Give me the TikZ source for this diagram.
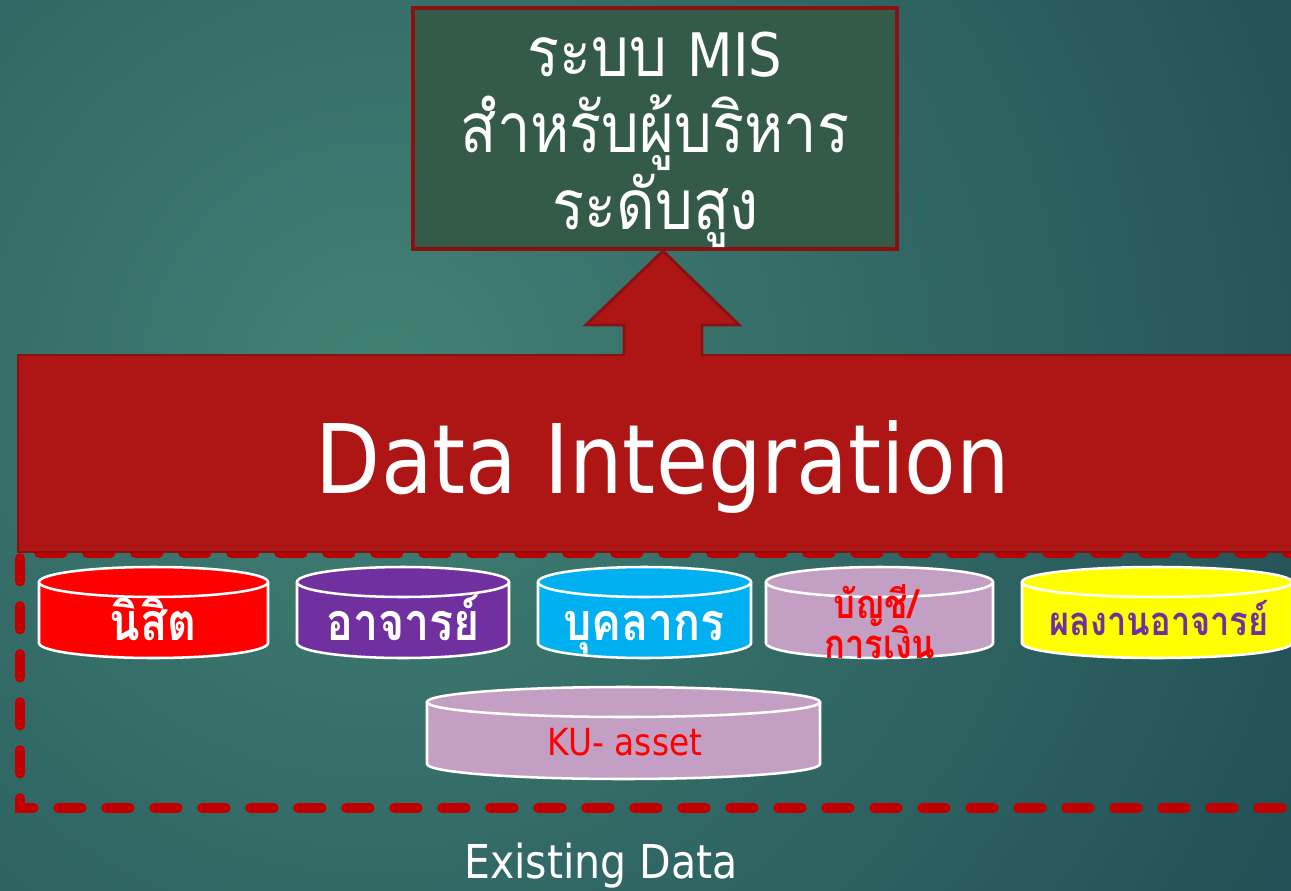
\documentclass[tikz,border=0pt]{standalone}
\usepackage{fontspec}
\newfontfamily\thai[Script=Thai,FakeStretch=0.86]{Loma}
\newfontfamily\dvc[FakeStretch=0.88]{DejaVu Sans}
\definecolor{bgin}{HTML}{428174}
\definecolor{bgout}{HTML}{1E4A52}
\definecolor{boxgreen}{HTML}{345A48}
\definecolor{darkred}{HTML}{8A1111}
\definecolor{bandred}{HTML}{AE1616}
\definecolor{dashred}{HTML}{C00000}
\definecolor{cred}{HTML}{FF0000}
\definecolor{cpurple}{HTML}{7030A0}
\definecolor{cblue}{HTML}{00B0F0}
\definecolor{clilac}{HTML}{C49FC4}
\definecolor{cyellow}{HTML}{FFFF00}
\tikzset{
  dashline/.style={draw=dashred, line width=8pt, line cap=round, dash pattern=on 17pt off 19pt},
  cylline/.style={draw=white, line width=1.9pt},
  bandstyle/.style={fill=bandred, draw=darkred, line width=2.2pt},
  topbox/.style={fill=boxgreen, draw=darkred, line width=2.4pt},
  toptext/.style={anchor=base, text=white, font=\thai\fontsize{52}{60}\selectfont, inner sep=0pt},
  dbtext/.style={anchor=base, text=white, font=\thai\bfseries\fontsize{39}{44}\selectfont, inner sep=0pt},
  dbsmall/.style={anchor=base, font=\thai\bfseries\fontsize{30}{34}\selectfont, inner sep=0pt},
  lattext/.style={anchor=base, text=white, inner sep=0pt}
}
\newcommand{\dbcyl}[5]{%
  \pgfmathsetmacro\cyX{(#1+#2)/2}%
  \pgfmathsetmacro\cyR{(#2-#1)/2}%
  \pgfmathsetmacro\cyA{#3+15}%
  \pgfmathsetmacro\cyB{#4-15}%
  \fill[#5] (#1,\cyA) -- (#1,\cyB) arc[start angle=180, end angle=0, x radius=\cyR, y radius=15] -- (#2,\cyA) -- cycle;
  \draw[cylline] (#1,\cyA) -- (#1,\cyB) arc[start angle=180, end angle=0, x radius=\cyR, y radius=15] -- (#2,\cyA);
  \filldraw[cylline, fill=#5] (\cyX,\cyA) ellipse[x radius=\cyR, y radius=15];
}
\begin{document}
\begin{tikzpicture}[x=0.75pt,y=-0.75pt]
\useasboundingbox (0,0) rectangle (1291,891);
\begin{scope}
  \clip (0,0) rectangle (1291,891);
  \fill[bgout] (0,0) rectangle (1291,891);
  \shade[inner color=bgin, outer color=bgout] (380,380) circle[radius=1150];
\end{scope}
% dashed frame (Existing Data)
\draw[dashline] (39.5,553) -- (1320,553);
\draw[dashline] (20,558.5) -- (20,808) -- (1320,808);
% Data Integration band
\filldraw[bandstyle] (18,355) rectangle (1320,552);
\node[lattext, font=\dvc\fontsize{72}{86}\selectfont] (di) at (663,493) {Data Integration};
% up arrow
\filldraw[bandstyle, line join=miter] (624,356) -- (624,325) -- (586,325) -- (663,251) -- (739,325) -- (702,325) -- (702,356);
% top box
\filldraw[topbox] (413,8) rectangle (897,249);
\node[toptext] (mis1) at (655,77) {ระบบ {\dvc\fontsize{45}{58}\selectfont MIS}};
\node[toptext] (mis2) at (655,153) {สำหรับผู้บริหาร};
\node[toptext] (mis3) at (656,230) {ระดับสูง};
% databases
\dbcyl{39}{268}{567}{658}{cred}
\dbcyl{297}{509}{567}{658}{cpurple}
\dbcyl{538}{751}{567}{658}{cblue}
\dbcyl{766}{993}{567}{658}{clilac}
\dbcyl{1022}{1292}{567}{658}{cyellow}
\dbcyl{427}{820}{687}{779}{clilac}
\node[dbtext] (nisit) at (153,640) {นิสิต};
\node[dbtext] (ajarn) at (403,640) {อาจารย์};
\node[dbtext] (staff) at (644,640) {บุคลากร};
\node[dbsmall, text=cred] (acc1) at (876,618) {บัญชี/};
\node[dbsmall, text=cred] (acc2) at (880,658) {การเงิน};
\node[dbsmall, text=cpurple] (works) at (1159,635) {ผลงานอาจารย์};
\node[lattext, text=cred, font=\dvc\fontsize{28}{34}\selectfont] (ku) at (625,755) {KU- asset};
\node[lattext, font=\dvc\fontsize{35}{42}\selectfont] (exist) at (601,878) {Existing Data};
\end{tikzpicture}
\end{document}
